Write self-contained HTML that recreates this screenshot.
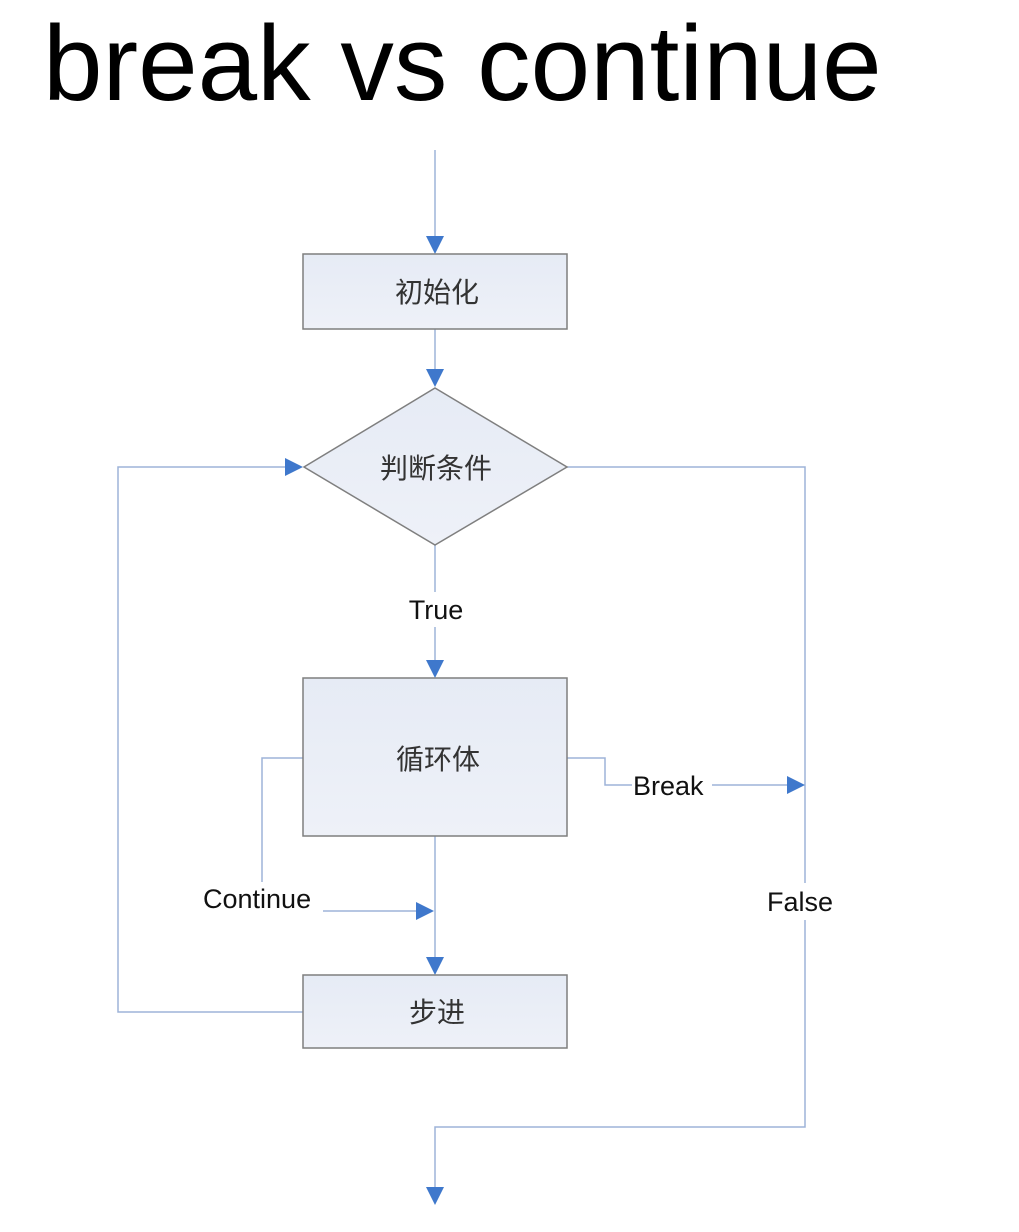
<!DOCTYPE html>
<html><head><meta charset="utf-8"><style>
html,body{margin:0;padding:0;background:#fff;}
body{width:1019px;height:1232px;overflow:hidden;position:relative;}
svg{position:absolute;left:0;top:0;}
</style></head><body>
<svg width="1019" height="1232" viewBox="0 0 1019 1232" xmlns="http://www.w3.org/2000/svg">
<defs>
<linearGradient id="g" x1="0" y1="0" x2="0" y2="1"><stop offset="0" stop-color="#e6ebf5"/><stop offset="1" stop-color="#eef1f8"/></linearGradient>
</defs>
<text x="43" y="100" font-family="Liberation Sans, Arial, sans-serif" font-size="107" fill="#000">break vs continue</text>
<g stroke="#9db4d8" stroke-width="1.5" fill="none">
<line x1="435" y1="150" x2="435" y2="240"/>
<line x1="435" y1="329" x2="435" y2="372"/>
<line x1="435" y1="545" x2="435" y2="592"/>
<line x1="435" y1="627" x2="435" y2="662"/>
<line x1="435" y1="836" x2="435" y2="960"/>
<polyline points="303,1012 118,1012 118,467 288,467"/>
<polyline points="567,467 805,467 805,883"/>
<polyline points="805,920 805,1127 435,1127 435,1190"/>
<polyline points="567,758 605,758 605,785 632,785"/>
<line x1="712" y1="785" x2="790" y2="785"/>
<polyline points="303,758 262,758 262,882"/>
<line x1="323" y1="911" x2="420" y2="911"/>
</g>
<g fill="#3f78cc">
<polygon points="426,236 444,236 435,254"/>
<polygon points="426,369 444,369 435,387"/>
<polygon points="426,660 444,660 435,678"/>
<polygon points="426,957 444,957 435,975"/>
<polygon points="426,1187 444,1187 435,1205"/>
<polygon points="285,458 285,476 303,467"/>
<polygon points="787,776 787,794 805,785"/>
<polygon points="416,902 416,920 434,911"/>
</g>
<g stroke="#7f7f7f" stroke-width="1.5" fill="url(#g)">
<rect x="303" y="254" width="264" height="75"/>
<polygon points="435,388 567,467 435,545 304,467"/>
<rect x="303" y="678" width="264" height="158"/>
<rect x="303" y="975" width="264" height="73"/>
</g>
<g font-family="Liberation Sans, Noto Sans CJK SC, sans-serif" font-size="28" fill="#333" text-anchor="middle">
<text x="437" y="302">初始化</text>
<text x="436" y="478">判断条件</text>
<text x="438" y="769">循环体</text>
<text x="437" y="1022">步进</text>
</g>
<g font-family="Liberation Sans, Arial, sans-serif" font-size="27" fill="#111">
<text x="436" y="619" text-anchor="middle">True</text>
<text x="633" y="795">Break</text>
<text x="203" y="908">Continue</text>
<text x="767" y="911">False</text>
</g>
</svg>
</body></html>
